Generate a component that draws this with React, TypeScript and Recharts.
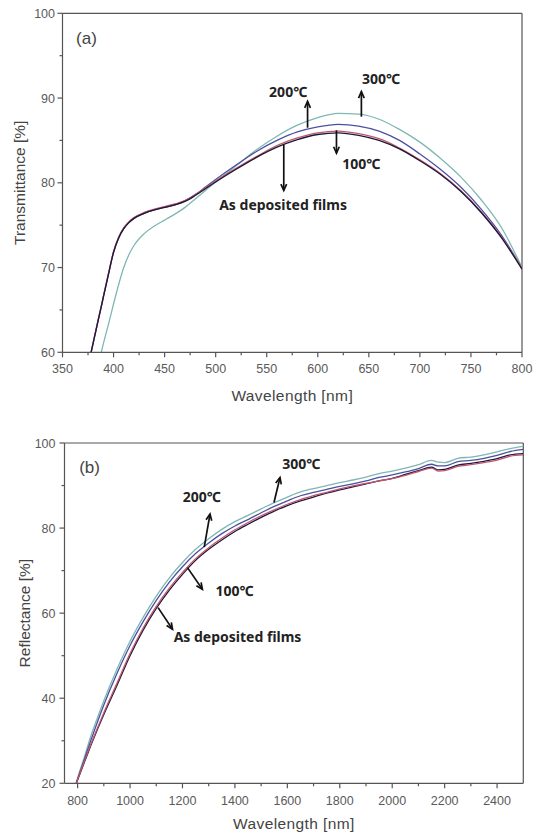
import React from 'react';
import { LineChart, Line, XAxis, YAxis, ReferenceLine, ReferenceDot, Label } from 'recharts';

// ---------- Panel (a): Transmittance ----------
const wavelengthA = [378, 385, 388, 390, 395, 400, 405, 410, 415, 420, 430, 440, 450, 460, 470, 480, 490, 500, 520, 540, 560, 580, 600, 620, 640, 660, 680, 700, 720, 740, 760, 780, 800];
const transAsDeposited = [60, 63.8, 65.4, 66.5, 69.2, 71.8, 73.5, 74.6, 75.3, 75.8, 76.4, 76.8, 77.1, 77.4, 77.8, 78.5, 79.3, 80.1, 81.6, 83.0, 84.2, 85.1, 85.7, 85.9, 85.6, 85.0, 84.0, 82.6, 81.0, 79.0, 76.5, 73.5, 69.8];
const trans100 = [60, 63.9, 65.5, 66.6, 69.3, 71.9, 73.6, 74.7, 75.4, 75.9, 76.5, 76.9, 77.2, 77.5, 77.9, 78.6, 79.4, 80.2, 81.7, 83.1, 84.4, 85.3, 85.9, 86.1, 85.8, 85.2, 84.1, 82.7, 81.1, 79.1, 76.6, 73.6, 69.9];
const trans200 = [60, 63.8, 65.4, 66.5, 69.2, 71.8, 73.5, 74.6, 75.3, 75.8, 76.4, 76.8, 77.1, 77.4, 77.9, 78.6, 79.5, 80.4, 82.1, 83.7, 85.0, 86.0, 86.6, 86.9, 86.7, 86.1, 85.0, 83.4, 81.6, 79.5, 76.9, 73.8, 69.9];
const trans300 = [null, null, 60, 61, 63.3, 65.7, 68.0, 70.0, 71.5, 72.6, 74.0, 74.9, 75.6, 76.3, 77.1, 78.1, 79.1, 80.1, 82.0, 83.9, 85.5, 86.8, 87.7, 88.2, 88.1, 87.5, 86.3, 84.8, 82.9, 80.7, 78.0, 74.7, 70.0];

const xMajorA = [350, 400, 450, 500, 550, 600, 650, 700, 750, 800];
const xMinorA = [375, 425, 475, 525, 575, 625, 675, 725, 775];
const yMajorA = [60, 70, 80, 90, 100];
const yMinorA = [65, 75, 85, 95];

// ---------- Panel (b): Reflectance ----------
const wavelengthB = [795, 800, 825, 850, 875, 900, 950, 1000, 1050, 1100, 1150, 1200, 1250, 1300, 1350, 1400, 1450, 1500, 1550, 1600, 1650, 1700, 1750, 1800, 1850, 1900, 1950, 2000, 2050, 2100, 2150, 2175, 2200, 2250, 2300, 2350, 2400, 2450, 2500];
const reflAsDeposited = [20, 20.8, 24.8, 28.8, 32.6, 36.2, 43.0, 50.0, 56.0, 61.1, 65.4, 69.1, 72.4, 75.0, 77.2, 79.2, 80.9, 82.5, 84.0, 85.3, 86.4, 87.3, 88.2, 89.0, 89.7, 90.4, 91.1, 91.7, 92.6, 93.5, 94.3, 93.7, 93.8, 94.8, 95.2, 95.7, 96.3, 97.2, 97.5];
const refl100 = [20, 20.9, 25.0, 29.1, 32.9, 36.6, 43.5, 50.5, 56.5, 61.6, 65.9, 69.6, 72.8, 75.4, 77.6, 79.6, 81.3, 82.9, 84.3, 85.6, 86.7, 87.6, 88.4, 89.2, 89.9, 90.5, 91.1, 91.6, 92.4, 93.3, 94.1, 93.4, 93.5, 94.5, 94.9, 95.4, 96.0, 96.9, 97.2];
const refl200 = [20, 21.0, 25.5, 30.0, 34.3, 38.4, 45.8, 52.4, 58.0, 63.0, 67.3, 70.9, 74.0, 76.5, 78.7, 80.5, 82.0, 83.6, 85.1, 86.4, 87.6, 88.4, 89.1, 89.8, 90.4, 91.1, 91.9, 92.5, 93.2, 94.0, 95.0, 94.6, 94.6, 95.6, 95.9, 96.4, 97.1, 98.0, 98.5];
const refl300 = [20, 21.2, 26.0, 31.0, 35.3, 39.4, 46.8, 53.4, 59.0, 64.0, 68.3, 71.9, 75.0, 77.5, 79.7, 81.5, 83.0, 84.5, 86.0, 87.3, 88.5, 89.3, 90.0, 90.7, 91.3, 92.0, 92.8, 93.4, 94.1, 94.9, 95.9, 95.5, 95.4, 96.4, 96.7, 97.2, 97.9, 98.7, 99.2];

const xMajorB = [800, 1000, 1200, 1400, 1600, 1800, 2000, 2200, 2400];
const xMinorB = [900, 1100, 1300, 1500, 1700, 1900, 2100, 2300];
const yMajorB = [20, 40, 60, 80, 100];
const yMinorB = [30, 50, 70, 90];

const toSeries = (xs: number[], ys: (number | null)[]) => xs.map((x, i) => ({ x, y: ys[i] }));
const merge = (a: number[], b: number[]) => [...a, ...b].sort((p, q) => p - q);

const COLORS = { dep: '#1c1838', c100: '#c0566e', c200: '#4c50a0', c300: '#7db8b2' };
const AXIS = '#555';
const TICK_FONT = "'Liberation Sans', Arial, sans-serif";
const ANN_FONT = "'Noto Sans', 'Noto Sans CJK KR', 'DejaVu Sans', sans-serif";

const makeXTick = (majors: number[], labelDy: number) => (props: any) => {
  const { x, y, payload } = props;
  const major = majors.includes(payload.value);
  return (
    <g>
      <line x1={x} x2={x} y1={y} y2={y + (major ? 5 : 3)} stroke={AXIS} strokeWidth={1.2} />
      {major && (
        <text x={x} y={y + labelDy} textAnchor="middle" fontSize={12.5} fill="#5a5a5a" fontFamily={TICK_FONT}>
          {payload.value}
        </text>
      )}
    </g>
  );
};

const makeYTick = (majors: number[], gap: number) => (props: any) => {
  const { x, y, payload } = props;
  const major = majors.includes(payload.value);
  return (
    <g>
      <line x1={x - (major ? 5 : 3)} x2={x} y1={y} y2={y} stroke={AXIS} strokeWidth={1.2} />
      {major && (
        <text x={x - gap} y={y + 4.5} textAnchor="end" fontSize={12.5} fill="#5a5a5a" fontFamily={TICK_FONT}>
          {payload.value}
        </text>
      )}
    </g>
  );
};

const xTitle = (text: string, dy: number) => (props: any) => {
  const vb = props.viewBox;
  return (
    <text x={vb.x + vb.width / 2} y={vb.y + dy} textAnchor="middle" fontSize={15.5} fill="#444" fontFamily={TICK_FONT} letterSpacing={0.4}>
      {text}
    </text>
  );
};

const yTitle = (text: string, cx: number) => (props: any) => {
  const vb = props.viewBox;
  const cy = vb.y + vb.height / 2;
  return (
    <text x={cx} y={cy} transform={`rotate(-90 ${cx} ${cy})`} textAnchor="middle" dominantBaseline="central" fontSize={15.5} fill="#444" fontFamily={TICK_FONT}>
      {text}
    </text>
  );
};

const Arrow = (p: any) => {
  const { x1, y1, x2, y2 } = p;
  const ang = Math.atan2(y2 - y1, x2 - x1);
  const L = 7;
  const W = 0.42;
  const ax = x2 - L * Math.cos(ang - W);
  const ay = y2 - L * Math.sin(ang - W);
  const bx = x2 - L * Math.cos(ang + W);
  const by = y2 - L * Math.sin(ang + W);
  return (
    <g>
      <line x1={x1} y1={y1} x2={x2} y2={y2} stroke="#111" strokeWidth={1.7} />
      <path d={`M${ax},${ay} L${x2},${y2} L${bx},${by}`} fill="none" stroke="#111" strokeWidth={1.7} />
    </g>
  );
};

const annLabel = (value: string) => ({
  value,
  position: 'center' as const,
  fill: '#222',
  fontSize: 14,
  fontWeight: 700,
  fontFamily: ANN_FONT,
});

const panelLabel = (value: string) => ({
  value,
  position: 'center' as const,
  fill: '#444',
  fontSize: 17,
  fontFamily: TICK_FONT,
});

const lineProps = {
  dataKey: 'y',
  dot: false,
  activeDot: false,
  isAnimationActive: false,
  strokeWidth: 1.3,
  type: 'monotone' as const,
};

export default function App() {
  return (
    <div style={{ position: 'absolute', left: 0, top: 0, width: 538, height: 839, background: '#fff' }}>
      <LineChart width={538} height={420} margin={{ top: 13.3, right: 16, bottom: 0, left: 0 }}>
        <XAxis
          type="number"
          dataKey="x"
          domain={[350, 800]}
          allowDataOverflow
          ticks={merge(xMajorA, xMinorA)}
          interval={0}
          tickSize={0}
          tickMargin={0}
          tickLine={false}
          tick={makeXTick(xMajorA, 20.5)}
          axisLine={{ stroke: AXIS, strokeWidth: 1.2 }}
          height={67.7}
        >
          <Label content={xTitle('Wavelength [nm]', 49)} />
        </XAxis>
        <YAxis
          type="number"
          domain={[60, 100]}
          allowDataOverflow
          ticks={merge(yMajorA, yMinorA)}
          interval={0}
          tickSize={0}
          tickMargin={0}
          tickLine={false}
          tick={makeYTick(yMajorA, 7.5)}
          axisLine={{ stroke: AXIS, strokeWidth: 1.2 }}
          width={62.5}
        >
          <Label content={yTitle('Transmittance [%]', 20)} />
        </YAxis>
        <ReferenceLine y={100} stroke={AXIS} strokeWidth={1.2} />
        <ReferenceLine x={800} stroke={AXIS} strokeWidth={1.2} />
        <Line {...lineProps} data={toSeries(wavelengthA, trans300)} stroke={COLORS.c300} />
        <Line {...lineProps} data={toSeries(wavelengthA, trans200)} stroke={COLORS.c200} />
        <Line {...lineProps} data={toSeries(wavelengthA, trans100)} stroke={COLORS.c100} />
        <Line {...lineProps} data={toSeries(wavelengthA, transAsDeposited)} stroke={COLORS.dep} />
        <ReferenceLine segment={[{ x: 590, y: 86.5 }, { x: 590, y: 89.6 }]} shape={Arrow} />
        <ReferenceLine segment={[{ x: 642.7, y: 87.8 }, { x: 642.7, y: 90.75 }]} shape={Arrow} />
        <ReferenceLine segment={[{ x: 618.3, y: 86.2 }, { x: 618.3, y: 83.5 }]} shape={Arrow} />
        <ReferenceLine segment={[{ x: 566.7, y: 84.5 }, { x: 566.7, y: 79.1 }]} shape={Arrow} />
        <ReferenceDot x={373.5} y={97.05} r={1} fill="none" stroke="none" label={panelLabel('(a)')} />
        <ReferenceDot x={571} y={90.75} r={1} fill="none" stroke="none" label={annLabel('200℃')} />
        <ReferenceDot x={662} y={92.3} r={1} fill="none" stroke="none" label={annLabel('300℃')} />
        <ReferenceDot x={642.7} y={82.2} r={1} fill="none" stroke="none" label={annLabel('100℃')} />
        <ReferenceDot x={566} y={77.4} r={1} fill="none" stroke="none" label={annLabel('As deposited films')} />
      </LineChart>
      <LineChart width={538} height={419} margin={{ top: 23, right: 14.7, bottom: 0, left: 0 }}>
        <XAxis
          type="number"
          dataKey="x"
          domain={[750, 2500]}
          allowDataOverflow
          ticks={merge(xMajorB, xMinorB)}
          interval={0}
          tickSize={0}
          tickMargin={0}
          tickLine={false}
          tick={makeXTick(xMajorB, 21.5)}
          axisLine={{ stroke: AXIS, strokeWidth: 1.2 }}
          height={55.7}
        >
          <Label content={xTitle('Wavelength [nm]', 46)} />
        </XAxis>
        <YAxis
          type="number"
          domain={[20, 100]}
          allowDataOverflow
          ticks={merge(yMajorB, yMinorB)}
          interval={0}
          tickSize={0}
          tickMargin={0}
          tickLine={false}
          tick={makeYTick(yMajorB, 9)}
          axisLine={{ stroke: AXIS, strokeWidth: 1.2 }}
          width={64.5}
        >
          <Label content={yTitle('Reflectance [%]', 25)} />
        </YAxis>
        <ReferenceLine y={100} stroke={AXIS} strokeWidth={1.2} />
        <ReferenceLine x={2500} stroke={AXIS} strokeWidth={1.2} />
        <Line {...lineProps} data={toSeries(wavelengthB, refl300)} stroke={COLORS.c300} />
        <Line {...lineProps} data={toSeries(wavelengthB, refl200)} stroke={COLORS.c200} />
        <Line {...lineProps} data={toSeries(wavelengthB, reflAsDeposited)} stroke={COLORS.dep} />
        <Line {...lineProps} data={toSeries(wavelengthB, refl100)} stroke={COLORS.c100} />
        <ReferenceLine segment={[{ x: 1549, y: 86.0 }, { x: 1572, y: 91.9 }]} shape={Arrow} />
        <ReferenceLine segment={[{ x: 1283, y: 75.5 }, { x: 1305, y: 83.3 }]} shape={Arrow} />
        <ReferenceLine segment={[{ x: 1219, y: 70.7 }, { x: 1276, y: 65.6 }]} shape={Arrow} />
        <ReferenceLine segment={[{ x: 1107, y: 61.3 }, { x: 1162, y: 56.2 }]} shape={Arrow} />
        <ReferenceDot x={845.5} y={94.4} r={1} fill="none" stroke="none" label={panelLabel('(b)')} />
        <ReferenceDot x={1653} y={95.1} r={1} fill="none" stroke="none" label={annLabel('300℃')} />
        <ReferenceDot x={1274} y={87.2} r={1} fill="none" stroke="none" label={annLabel('200℃')} />
        <ReferenceDot x={1399} y={65.3} r={1} fill="none" stroke="none" label={annLabel('100℃')} />
        <ReferenceDot x={1410} y={54.4} r={1} fill="none" stroke="none" label={annLabel('As deposited films')} />
      </LineChart>
    </div>
  );
}
